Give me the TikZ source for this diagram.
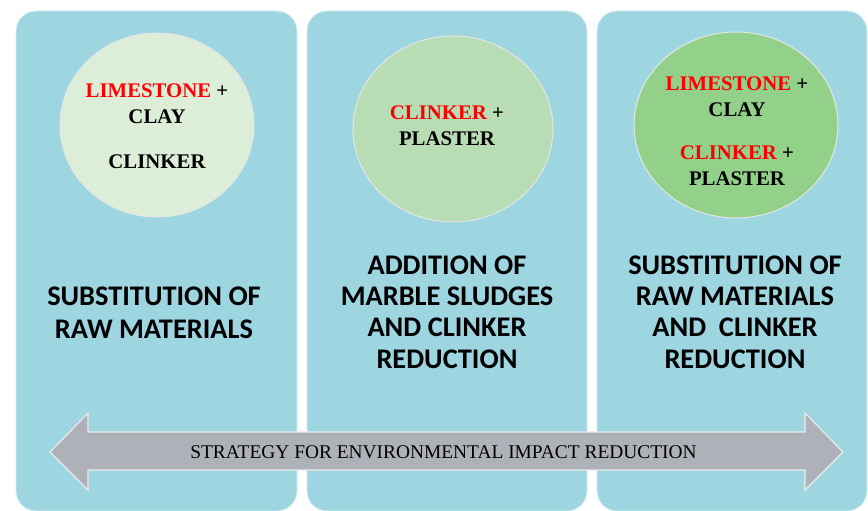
\documentclass[tikz,border=0pt]{standalone}
\usepackage{fontspec}
\setmainfont{Liberation Serif}
\newfontfamily\calibri{Carlito}
\usetikzlibrary{shapes.geometric}
\definecolor{panelblue}{HTML}{9DD5E1}
\definecolor{circA}{HTML}{DCEED8}
\definecolor{circB}{HTML}{B8DCB4}
\definecolor{circC}{HTML}{93D18A}
\definecolor{arrowgrey}{HTML}{AFB1B9}
\begin{document}
\begin{tikzpicture}[x=1pt,y=-1pt,
		panel/.style={fill=panelblue,draw=white!60!panelblue,line width=0.8pt,rounded corners=20pt},
		blob/.style={ellipse,draw=white!80!gray,line width=1pt},
		mix/.style={font=\bfseries\fontsize{20.8}{26}\selectfont,align=center,inner sep=0pt},
		goal/.style={font=\calibri\bfseries\fontsize{28.4}{31.3}\selectfont,align=center,inner sep=0pt}]
		\useasboundingbox (0,0) rectangle (868,511);
		\fill[white] (0,0) rectangle (868,511);

		\draw[panel] (16,11) rectangle (297,511);
		\draw[panel] (307,11) rectangle (587,511);
		\draw[panel] (597,11) rectangle (867,511);

		\node[blob,fill=circA,minimum width=194pt,minimum height=184pt] (mixA) at (157,125) {};
		\node[blob,fill=circB,minimum width=200pt,minimum height=186pt] (mixB) at (453,129) {};
		\node[blob,fill=circC,minimum width=204pt,minimum height=186pt] (mixC) at (736,125) {};

		\node[mix] (textA) at (157,126.5) {\textcolor{red}{LIMESTONE} +\\CLAY\\[19pt]CLINKER};
		\node[mix] (textB) at (447,125.5) {\textcolor{red}{CLINKER} +\\PLASTER};
		\node[mix] (textC) at (737,131.5) {\textcolor{red}{LIMESTONE} +\\CLAY\\[17pt]\textcolor{red}{CLINKER} +\\PLASTER};

		\node[goal] (goalA) at (154,312.5) {SUBSTITUTION OF\\[1.7pt]RAW MATERIALS};
		\node[goal] (goalB) at (447,312) {ADDITION OF\\MARBLE SLUDGES\\AND CLINKER\\REDUCTION};
		\node[goal] (goalC) at (735,312) {SUBSTITUTION OF\\RAW MATERIALS\\AND\ \ CLINKER\\REDUCTION};

		%\draw (50,452) node {x};
		\draw[fill=arrowgrey,draw=white!75!arrowgrey,line width=1.2pt]
			(50,452) -- (88,413) -- (88,432) -- (805,432) -- (805,413) -- (843,452)
			-- (805,490) -- (805,470) -- (88,470) -- (88,490) -- cycle;
		\node[font=\fontsize{19.4}{22}\selectfont] (strategy) at (443.5,452) {STRATEGY FOR ENVIRONMENTAL IMPACT REDUCTION};
\end{tikzpicture}
\end{document}
